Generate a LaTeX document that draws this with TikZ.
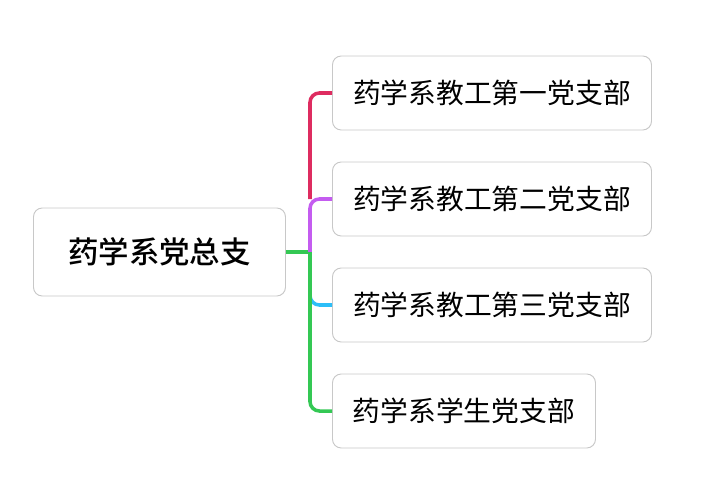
\documentclass[tikz,border=0pt]{standalone}
\usepackage{fontspec}
\setmainfont{Noto Sans CJK SC}
\newfontfamily\topicfont{Noto Sans CJK SC Medium}
\usetikzlibrary{calc}
\definecolor{boxgray}{RGB}{200,200,200}
\definecolor{lred}{RGB}{222,44,96}
\definecolor{lpurple}{RGB}{196,92,240}
\definecolor{lblue}{RGB}{44,190,248}
\definecolor{lgreen}{RGB}{52,200,84}
\tikzstyle{topic}=[shape=rectangle,rounded corners=7.5,draw=boxgray,line width=0.8pt,fill=white,anchor=west,inner sep=0,minimum height=2.64cm,font=\fontsize{26}{26}\topicfont]
\tikzstyle{branch}=[shape=rectangle,rounded corners=7.5,draw=boxgray,line width=0.8pt,fill=white,anchor=west,inner sep=0,minimum height=2.22cm,font=\fontsize{23.7}{23.7}\selectfont]
\tikzstyle{link} = [line width=3pt,rounded corners=8]

\begin{document}
\begin{tikzpicture}[x=0.03cm,y=-0.03cm]
\useasboundingbox (0,0) rectangle (708,501);
\node[topic,minimum width=7.56cm] (root) at (33,252) {药学系党总支};
\node[branch,minimum width=9.57cm] (b1) at (332,93) {药学系教工第一党支部};
\node[branch,minimum width=9.57cm] (b2) at (332,199) {药学系教工第二党支部};
\node[branch,minimum width=9.57cm] (b3) at (332,305) {药学系教工第三党支部};
\node[branch,minimum width=7.89cm] (b4) at (332,411) {药学系学生党支部};
\coordinate (fork) at (310,252);
\draw[link,lgreen] (root.east)--(fork);
\draw[link,lred] (fork |- b2.west) |- (b1.west);
\draw[link,lpurple] (fork) |- (b2.west);
\draw[link,lblue] (fork) |- (b3.west);
\draw[link,lgreen] (fork) |- (b4.west);
\end{tikzpicture}
\end{document}
